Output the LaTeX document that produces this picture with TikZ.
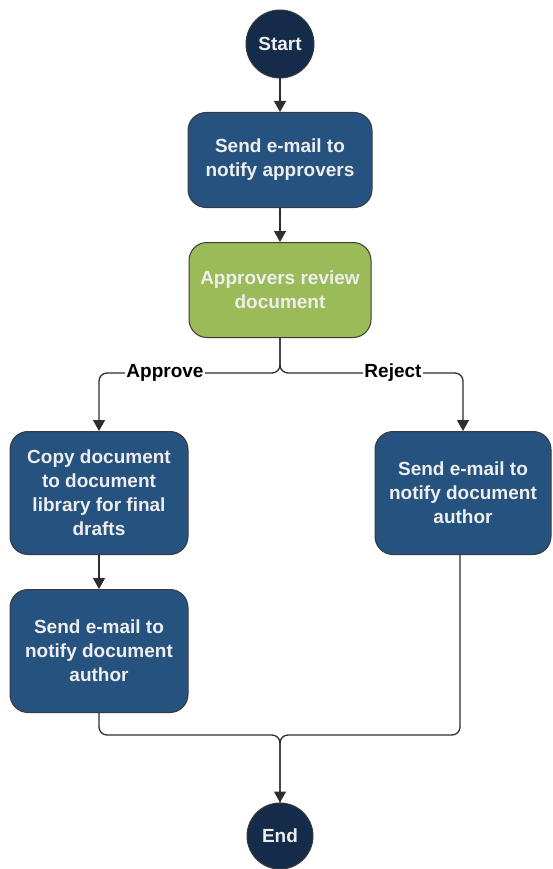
\documentclass[tikz,border=0pt]{standalone}
\usepackage{fontspec}
\setmainfont{Liberation Sans}
\usetikzlibrary{arrows.meta}
\definecolor{boxblue}{HTML}{25527F}
\definecolor{navy}{HTML}{142B4A}
\definecolor{boxgreen}{HTML}{9BBB59}
\definecolor{txt}{HTML}{EEEEEE}
\definecolor{edge}{HTML}{3A3A3A}
\definecolor{wire}{HTML}{2E2E2E}
\begin{document}
\begin{tikzpicture}[x=1pt,y=-1pt,
  every node/.style={font=\fontsize{19}{24}\selectfont\bfseries},
  proc/.style={draw=edge, line width=1pt, rounded corners=18pt, fill=boxblue, text=txt, align=center, inner sep=0pt},
  decide/.style={proc, fill=boxgreen},
  term/.style={circle, draw=edge, line width=1pt, fill=navy, text=txt, inner sep=0pt, minimum size=68pt},
  wireline/.style={draw=wire, line width=1.3pt, rounded corners=8pt},
  arr/.style={wireline, -{Triangle[length=11pt,width=12pt]}},
  lbl/.style={fill=white, text=black, inner sep=1.5pt}
]
\useasboundingbox (0,0) rectangle (553,869);
\node[term] (start) at (280,44) {Start};
\node[proc, minimum width=184pt, minimum height=95pt] (b1) at (280,160) {Send e-mail to\\notify approvers};
\node[decide, minimum width=182pt, minimum height=95pt] (b2) at (280,290) {Approvers review\\document};
\node[proc, minimum width=178pt, minimum height=123pt] (b3) at (99,493) {Copy document\\to document\\library for final\\drafts};
\node[proc, minimum width=176pt, minimum height=123pt] (b4) at (463,493) {Send e-mail to\\notify document\\author};
\node[proc, minimum width=178pt, minimum height=123pt] (b5) at (99,651) {Send e-mail to\\notify document\\author};
\node[term, minimum size=66pt] (end) at (280,836) {End};
\coordinate (split) at (280,373);
\coordinate (merge) at (280,735);
\draw[arr] (start) -- (b1);
\draw[arr] (b1) -- (b2);
\draw[arr] (b2.south) -- (split) -| (b3.north);
\draw[arr] (b2.south) -- (split) -| (b4.north);
\draw[arr] (b3) -- (b5);
\draw[wireline] ([xshift=-3pt]b4.south) |- (merge) -- (end.north);
\draw[arr] (b5.south) |- (merge) -- (end.north);
\node[lbl] (approve) at (165,373) {Approve};
\node[lbl] (reject) at (393,373) {Reject};
\end{tikzpicture}
\end{document}
